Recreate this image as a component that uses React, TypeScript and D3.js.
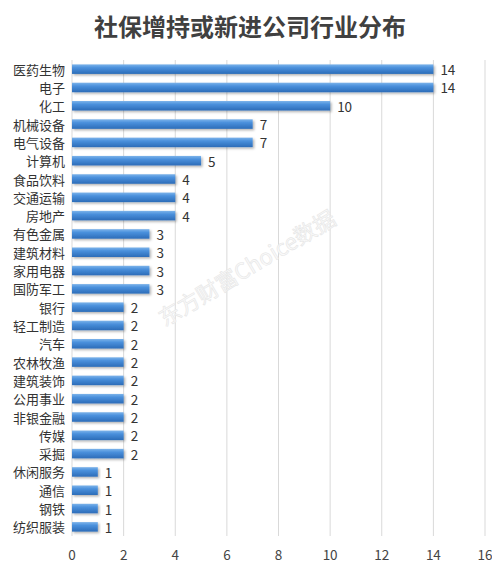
import React from 'react';
import * as d3 from 'd3';

const categories = [
    '医药生物', '电子', '化工', '机械设备', '电气设备', '计算机', '食品饮料', '交通运输', '房地产',
    '有色金属', '建筑材料', '家用电器', '国防军工', '银行', '轻工制造', '汽车', '农林牧渔', '建筑装饰',
    '公用事业', '非银金融', '传媒', '采掘', '休闲服务', '通信', '钢铁', '纺织服装',
];
const values = [14, 14, 10, 7, 7, 5, 4, 4, 4, 3, 3, 3, 3, 2, 2, 2, 2, 2, 2, 2, 2, 2, 1, 1, 1, 1];
const xTicks = [0, 2, 4, 6, 8, 10, 12, 14, 16];

const title = '社保增持或新进公司行业分布';
const watermark = '东方财富Choice数据';

const width = 500;
const height = 572;
const margin = { top: 60, right: 15, bottom: 36, left: 72 };
const font = '"Microsoft YaHei", "Noto Sans CJK SC", sans-serif';

const App: React.FC = () => {
    const xScale = d3.scaleLinear()
        .domain([0, 16])
        .range([margin.left, width - margin.right]);

    const yScale = d3.scaleBand<string>()
        .domain(categories)
        .range([margin.top, height - margin.bottom])
        .paddingInner(0.48)
        .paddingOuter(0.24);

    const bw = yScale.bandwidth();

    return (
        <svg width={width} height={height} style={{ display: 'block', margin: '-8px' }}>
            <defs>
                <linearGradient id="barFill" x1="0" y1="0" x2="0" y2="1">
                    <stop offset="0%" stopColor="#7cb3ea" />
                    <stop offset="35%" stopColor="#4a90dc" />
                    <stop offset="100%" stopColor="#2c6cb8" />
                </linearGradient>
                <filter id="shadow" x="-5%" y="-30%" width="115%" height="190%">
                    <feDropShadow dx="1.5" dy="1.5" stdDeviation="1" floodColor="#000" floodOpacity="0.3" />
                </filter>
            </defs>
            <rect x={0.5} y={0.5} width={width - 1} height={height - 1} fill="#fff" stroke="#d9d9d9" />

            <text x={width / 2} y={36} textAnchor="middle" fontFamily={font} fontSize={24}
                fontWeight="bold" fill="#404040">{title}</text>

            {/* vertical gridlines */}
            {xTicks.map(t => (
                <line key={t} x1={xScale(t)} x2={xScale(t)} y1={margin.top} y2={height - margin.bottom}
                    stroke="#d9d9d9" strokeWidth={1} />
            ))}

            {/* watermark */}
            <text transform={`translate(248,270) rotate(-31)`} textAnchor="middle" dominantBaseline="middle"
                fontFamily={font} fontSize={22} fill="#fafafa" stroke="#e6e6e6" strokeWidth={0.6}>
                {watermark}
            </text>

            {categories.map((c, i) => {
                const y = yScale(c)!;
                const v = values[i];
                return (
                    <g key={c}>
                        <rect x={xScale(0)} y={y} width={xScale(v) - xScale(0)} height={bw}
                            fill="url(#barFill)" filter="url(#shadow)" />
                        <text x={margin.left - 7} y={y + bw / 2} textAnchor="end" dominantBaseline="central"
                            fontFamily={font} fontSize={13} fill="#333">{c}</text>
                        <text x={xScale(v) + 7} y={y + bw / 2} dominantBaseline="central"
                            fontFamily={font} fontSize={13.5} fill="#333">{v}</text>
                    </g>
                );
            })}

            {xTicks.map(t => (
                <text key={t} x={xScale(t)} y={height - 18} textAnchor="middle" dominantBaseline="central"
                    fontFamily={font} fontSize={13.5} fill="#444">{t}</text>
            ))}
        </svg>
    );
};

export default App;
